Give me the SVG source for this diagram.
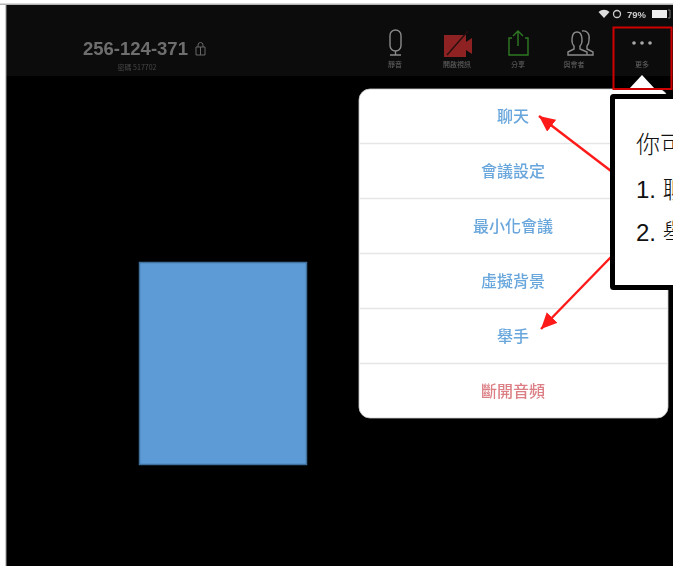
<svg xmlns="http://www.w3.org/2000/svg" width="673" height="567" viewBox="0 0 673 567">
<defs>
<style>
.cjk{font-family:"Noto Sans CJK TC","Liberation Sans",sans-serif}
.lat{font-family:"Liberation Sans","Noto Sans CJK TC",sans-serif}
.item{font-size:16px;font-weight:500;text-anchor:middle;fill:#68a6dc;font-family:"Noto Sans CJK TC",sans-serif;filter:url(#soft)}
.tb{font-size:7px;text-anchor:middle;fill:#666;font-family:"Noto Sans CJK TC",sans-serif;filter:url(#soft2)}
.sep{stroke:#e6e6e6;stroke-width:1.5}
.ico{fill:none;stroke-width:1.4}
.call{font-size:24px;font-weight:300;fill:#111;font-family:"Liberation Sans","Noto Sans CJK TC",sans-serif}
.arr{stroke:#ff1a1a;stroke-width:2.4;fill:none;marker-end:url(#ah)}
</style>
<filter id="soft" x="-10%" y="-30%" width="120%" height="160%"><feGaussianBlur stdDeviation="0.7"/></filter>
<filter id="soft2" x="-20%" y="-40%" width="140%" height="180%"><feGaussianBlur stdDeviation="0.7"/></filter>
<filter id="edge" x="-2%" y="-2%" width="104%" height="104%"><feGaussianBlur stdDeviation="0.6"/></filter>
<marker id="ah" markerUnits="userSpaceOnUse" markerWidth="18" markerHeight="16" refX="16" refY="7.500" orient="auto"><path d="M0 0L16 7.500L0 15Z" fill="#ff1a1a"/></marker>
</defs>
<rect width="673" height="567" fill="#fff"/>
<rect x="6" y="5" width="667" height="561" fill="#000"/>
<rect x="6" y="5" width="667" height="71" fill="#0c0c0c"/>
<rect x="0" y="3.500" width="673" height="1.500" fill="#b5b5b5"/>
<rect x="5.500" y="5" width="1" height="561" fill="#999"/>

<g id="meeting-id" filter="url(#soft)">
<text class="lat" x="83" y="55" font-size="18.500" font-weight="bold" fill="#6e6e6e">256-124-371</text>
<path d="M196 47h9v8h-9zM198 47v-2a2.500 2.500 0 0 1 5 0v2M200.500 47v8" fill="none" stroke="#666" stroke-width="1"/>
</g>
<text id="password" class="cjk" x="137" y="70" font-size="7" text-anchor="middle" fill="#484848" filter="url(#soft2)">密碼 517702</text>

<g id="status-bar" filter="url(#edge)">
<path d="M604 18L598.500 12a8 8 0 0 1 11 0Z" fill="#ddd"/>
<circle cx="617" cy="14" r="3.500" fill="none" stroke="#ccc" stroke-width="1.300"/>
<text class="lat" x="627" y="17.500" font-size="9.500" font-weight="bold" fill="#ccc">79%</text>
<rect x="652" y="10" width="15" height="8" fill="#eee"/>
<path d="M668 10h2v8h-2" fill="none" stroke="#777"/>
</g>

<g id="tool-mute" filter="url(#edge)">
<rect class="ico" x="390" y="30" width="11" height="21" rx="5.500" stroke="#8a8a8a"/>
<path class="ico" d="M395.500 51v4M390 55h11" stroke="#8a8a8a"/>
</g>
<text class="tb" x="395" y="67">靜音</text>
<g id="tool-video" filter="url(#edge)">
<path d="M444 35h22v7l6-4v16l-6-4v7h-22z" fill="#8e2323"/>
<path d="M447 55L468 31" stroke="#2a1010" stroke-width="1.500"/>
</g>
<text class="tb" x="457" y="67">開啟視訊</text>
<g id="tool-share" filter="url(#edge)">
<path class="ico" d="M512 38h-3v17h19v-17h-3M518 46v-15M513 36l5-5 5 5" stroke="#2f7a22"/>
</g>
<text class="tb" x="518" y="67">分享</text>
<g id="tool-participants" filter="url(#edge)">
<path class="ico" d="M568 55v-3l6-3v-3c-3-3-3-14 3-14s6 11 3 14v3l7 3v3zM582 31c5-1 8 3 7 9 0 3-1 5-2 6v3l6 3v3h-6" stroke="#8a8a8a"/>
</g>
<text class="tb" x="574" y="67">與會者</text>
<g id="tool-more">
<g filter="url(#edge)"><circle cx="634" cy="43" r="1.800" fill="#aaa"/><circle cx="642" cy="43" r="1.800" fill="#aaa"/><circle cx="650" cy="43" r="1.800" fill="#aaa"/></g>
<text class="tb" x="642" y="67">更多</text>
</g>

<rect id="blue-rect" x="139.500" y="262.500" width="167" height="202" fill="#5b9bd5" stroke="#41719c" stroke-width="1.500" filter="url(#edge)"/>

<g id="menu">
<rect x="359" y="89" width="309" height="329" rx="11" fill="#fff" stroke="#ccc" stroke-width="0.800"/>
<path d="M642 75L655 89H629Z" fill="#fff"/>
<path class="sep" d="M359 143.500H668M359 198.500H668M359 253.500H668M359 308.500H668M359 363.500H668"/>
<text class="item" x="513" y="122">聊天</text>
<text class="item" x="513" y="177">會議設定</text>
<text class="item" x="513" y="232">最小化會議</text>
<text class="item" x="513" y="287">虛擬背景</text>
<text class="item" x="513" y="342">舉手</text>
<text class="item" x="513" y="397" style="fill:#dc7f85">斷開音頻</text>
</g>

<rect id="more-highlight" x="613.500" y="27.500" width="58" height="61.500" fill="none" stroke="#d00000" stroke-width="2"/>

<g id="connectors">
<path class="arr" d="M611 171L539 116"/>
<path class="arr" d="M611 257L541 329"/>
</g>

<g id="callout">
<rect x="612.500" y="96.500" width="70" height="191" rx="1" fill="#fff" stroke="#000" stroke-width="5"/>
<text class="call" x="636" y="153">你可</text>
<text class="call" x="636" y="198">1. 聊</text>
<text class="call" x="636" y="241">2. 舉</text>
</g>
</svg>
